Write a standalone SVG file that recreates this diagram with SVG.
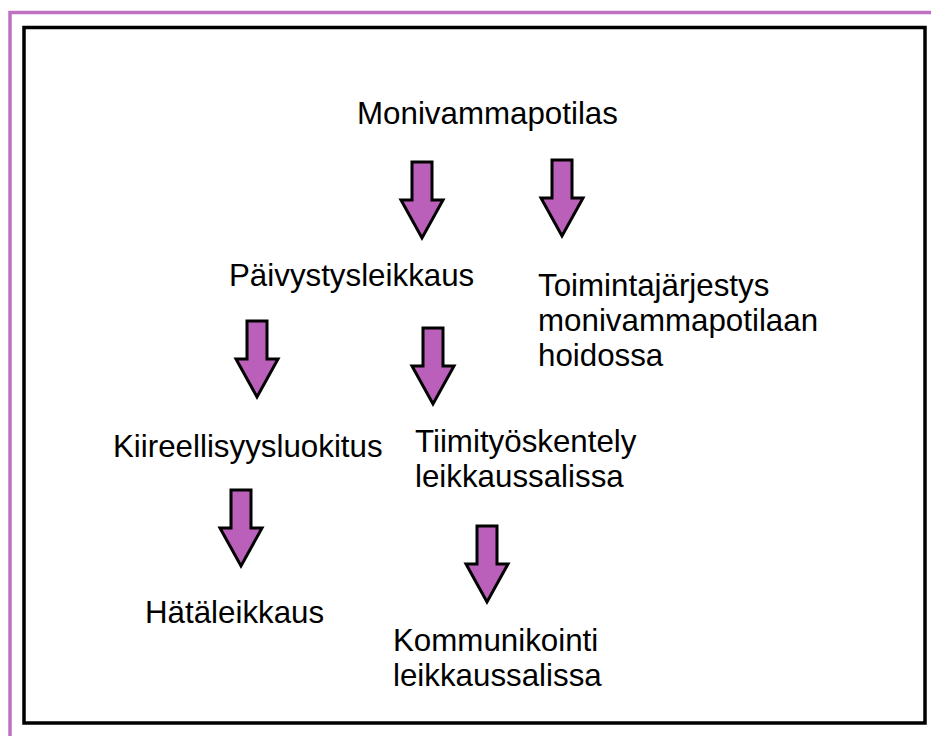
<svg xmlns="http://www.w3.org/2000/svg" width="931" height="736" viewBox="0 0 931 736">
<style>
  .t { font-family: "Liberation Sans", Arial, sans-serif; font-size: 31.3px; fill: #000; }
  .arrow { fill: #ba5fba; stroke: #000; stroke-width: 3; stroke-linejoin: miter; }
</style>
<defs>
  <path id="arr" d="M-10,0 H10 V38 H21 L0,76 L-21,38 H-10 Z"/>
</defs>
<rect width="931" height="736" fill="#fff"/>
<path d="M10,736 V12.5 H931" fill="none" stroke="#c070c0" stroke-width="3.5"/>
<rect x="24" y="27.5" width="901" height="695.5" fill="none" stroke="#000" stroke-width="3.5"/>
<g id="connectors">
  <use href="#arr" class="arrow" x="422" y="162"/>
  <use href="#arr" class="arrow" x="562" y="160"/>
  <use href="#arr" class="arrow" x="257" y="321"/>
  <use href="#arr" class="arrow" x="433" y="328"/>
  <use href="#arr" class="arrow" x="241" y="490"/>
  <use href="#arr" class="arrow" x="487" y="526"/>
</g>
<g id="n-monivammapotilas"><text class="t" x="357" y="123.5">Monivammapotilas</text></g>
<g id="n-paivystysleikkaus"><text class="t" x="229" y="286">Päivystysleikkaus</text></g>
<g id="n-toimintajarjestys"><text class="t" x="538" y="295.5">Toimintajärjestys<tspan x="538" dy="35">monivammapotilaan</tspan><tspan x="538" dy="35">hoidossa</tspan></text></g>
<g id="n-kiireellisyysluokitus"><text class="t" x="113" y="457">Kiireellisyysluokitus</text></g>
<g id="n-tiimityoskentely"><text class="t" x="415" y="452">Tiimityöskentely<tspan x="415" dy="35">leikkaussalissa</tspan></text></g>
<g id="n-hataleikkaus"><text class="t" x="145" y="623">Hätäleikkaus</text></g>
<g id="n-kommunikointi"><text class="t" x="393" y="651">Kommunikointi<tspan x="393" dy="35">leikkaussalissa</tspan></text></g>
</svg>
